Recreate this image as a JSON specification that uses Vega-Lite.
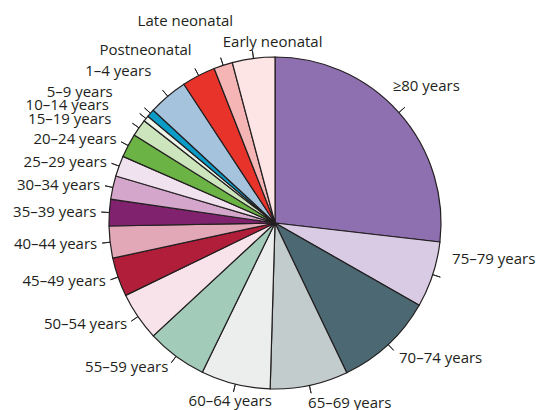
{
  "$schema": "https://vega.github.io/schema/vega-lite/v6.json",
  "width": 332,
  "height": 332,
  "autosize": {"type": "none"},
  "padding": {"left": 109, "top": 57, "right": 98, "bottom": 21},
  "background": "white",
  "config": {"view": {"stroke": null}},
  "data": {
    "values": [
      {"order": 1, "label": "≥80 years", "value": 26.83},
      {"order": 2, "label": "75–79 years", "value": 6.42},
      {"order": 3, "label": "70–74 years", "value": 9.64},
      {"order": 4, "label": "65–69 years", "value": 7.58},
      {"order": 5, "label": "60–64 years", "value": 6.75},
      {"order": 6, "label": "55–59 years", "value": 5.89},
      {"order": 7, "label": "50–54 years", "value": 4.72},
      {"order": 8, "label": "45–49 years", "value": 3.78},
      {"order": 9, "label": "40–44 years", "value": 3.11},
      {"order": 10, "label": "35–39 years", "value": 2.58},
      {"order": 11, "label": "30–34 years", "value": 2.28},
      {"order": 12, "label": "25–29 years", "value": 2.0},
      {"order": 13, "label": "20–24 years", "value": 2.31},
      {"order": 14, "label": "15–19 years", "value": 1.67},
      {"order": 15, "label": "10–14 years", "value": 0.56},
      {"order": 16, "label": "5–9 years", "value": 0.78},
      {"order": 17, "label": "1–4 years", "value": 3.86},
      {"order": 18, "label": "Postneonatal", "value": 3.28},
      {"order": 19, "label": "Late neonatal", "value": 1.83},
      {"order": 20, "label": "Early neonatal", "value": 4.14}
    ]
  },
  "encoding": {
    "theta": {"field": "value", "type": "quantitative", "stack": true},
    "order": {"field": "order", "type": "quantitative", "sort": "ascending"}
  },
  "layer": [
    {
      "mark": {"type": "arc", "radius": 166, "stroke": "#231f20", "strokeWidth": 1.2},
      "encoding": {
        "color": {
          "field": "label",
          "type": "nominal",
          "legend": null,
          "scale": {
            "domain": ["≥80 years", "75–79 years", "70–74 years", "65–69 years", "60–64 years", "55–59 years", "50–54 years", "45–49 years", "40–44 years", "35–39 years", "30–34 years", "25–29 years", "20–24 years", "15–19 years", "10–14 years", "5–9 years", "1–4 years", "Postneonatal", "Late neonatal", "Early neonatal"],
            "range": ["#8e6fb0", "#d8cbe3", "#4b6873", "#c3cccd", "#eceeed", "#a3cbba", "#f7e3e9", "#b11e3a", "#e3a8b7", "#80226e", "#d4a6cb", "#f1e2ef", "#6ab344", "#cde5bd", "#eef6e9", "#0b9bc7", "#a6c3de", "#e8332a", "#f5b5b5", "#fde5e5"]
          }
        }
      }
    },
    {
      "mark": {"type": "arc", "radius": 174, "radius2": 166, "padAngle": 3.2, "filled": false, "stroke": "#231f20", "strokeWidth": 0.9},
      "encoding": {}
    },
    {
      "mark": {"type": "text", "radius": 179, "align": "right", "baseline": "middle", "font": "Open Sans", "fontSize": 15, "fill": "#231f20"},
      "encoding": {"text": {"condition": {"test": "indexof(['55–59 years','50–54 years','45–49 years','40–44 years','35–39 years','30–34 years','25–29 years','20–24 years'], datum.label) >= 0", "field": "label"}, "value": ""}}
    },
    {
      "mark": {"type": "text", "radius": 179, "align": "right", "baseline": "middle", "font": "Open Sans", "fontSize": 15, "fill": "#231f20", "dx": -17, "dy": -1},
      "encoding": {"text": {"condition": {"test": "datum.label === '15–19 years'", "field": "label"}, "value": ""}}
    },
    {
      "mark": {"type": "text", "radius": 179, "align": "right", "baseline": "middle", "font": "Open Sans", "fontSize": 15, "fill": "#231f20", "dx": -27, "dy": -5},
      "encoding": {"text": {"condition": {"test": "datum.label === '10–14 years'", "field": "label"}, "value": ""}}
    },
    {
      "mark": {"type": "text", "radius": 179, "align": "right", "baseline": "middle", "font": "Open Sans", "fontSize": 15, "fill": "#231f20", "dx": -28, "dy": -13},
      "encoding": {"text": {"condition": {"test": "datum.label === '5–9 years'", "field": "label"}, "value": ""}}
    },
    {
      "mark": {"type": "text", "radius": 179, "align": "right", "baseline": "middle", "font": "Open Sans", "fontSize": 15, "fill": "#231f20", "dx": -8, "dy": -15},
      "encoding": {"text": {"condition": {"test": "datum.label === '1–4 years'", "field": "label"}, "value": ""}}
    },
    {
      "mark": {"type": "text", "radius": 179, "align": "right", "baseline": "middle", "font": "Open Sans", "fontSize": 15, "fill": "#231f20", "dx": -1, "dy": -14},
      "encoding": {"text": {"condition": {"test": "datum.label === 'Postneonatal'", "field": "label"}, "value": ""}}
    },
    {
      "mark": {"type": "text", "radius": 179, "align": "right", "baseline": "middle", "font": "Open Sans", "fontSize": 15, "fill": "#231f20", "dx": 14, "dy": -32},
      "encoding": {"text": {"condition": {"test": "datum.label === 'Late neonatal'", "field": "label"}, "value": ""}}
    },
    {
      "mark": {"type": "text", "radius": 179, "align": "left", "baseline": "middle", "font": "Open Sans", "fontSize": 15, "fill": "#231f20", "dx": -29, "dy": -4},
      "encoding": {"text": {"condition": {"test": "datum.label === 'Early neonatal'", "field": "label"}, "value": ""}}
    },
    {
      "mark": {"type": "text", "radius": 179, "align": "left", "baseline": "middle", "font": "Open Sans", "fontSize": 15, "fill": "#231f20", "dx": -16, "dy": -18},
      "encoding": {"text": {"condition": {"test": "datum.label === '≥80 years'", "field": "label"}, "value": ""}}
    },
    {
      "mark": {"type": "text", "radius": 179, "align": "left", "baseline": "middle", "font": "Open Sans", "fontSize": 15, "fill": "#231f20", "dx": 7, "dy": -20},
      "encoding": {"text": {"condition": {"test": "datum.label === '75–79 years'", "field": "label"}, "value": ""}}
    },
    {
      "mark": {"type": "text", "radius": 179, "align": "left", "baseline": "middle", "font": "Open Sans", "fontSize": 15, "fill": "#231f20", "dx": 2, "dy": 4},
      "encoding": {"text": {"condition": {"test": "datum.label === '70–74 years'", "field": "label"}, "value": ""}}
    },
    {
      "mark": {"type": "text", "radius": 179, "align": "left", "baseline": "middle", "font": "Open Sans", "fontSize": 15, "fill": "#231f20", "dx": -4, "dy": 5},
      "encoding": {"text": {"condition": {"test": "datum.label === '65–69 years'", "field": "label"}, "value": ""}}
    },
    {
      "mark": {"type": "text", "radius": 179, "align": "center", "baseline": "middle", "font": "Open Sans", "fontSize": 15, "fill": "#231f20", "dx": -2, "dy": 4},
      "encoding": {"text": {"condition": {"test": "datum.label === '60–64 years'", "field": "label"}, "value": ""}}
    }
  ]
}
